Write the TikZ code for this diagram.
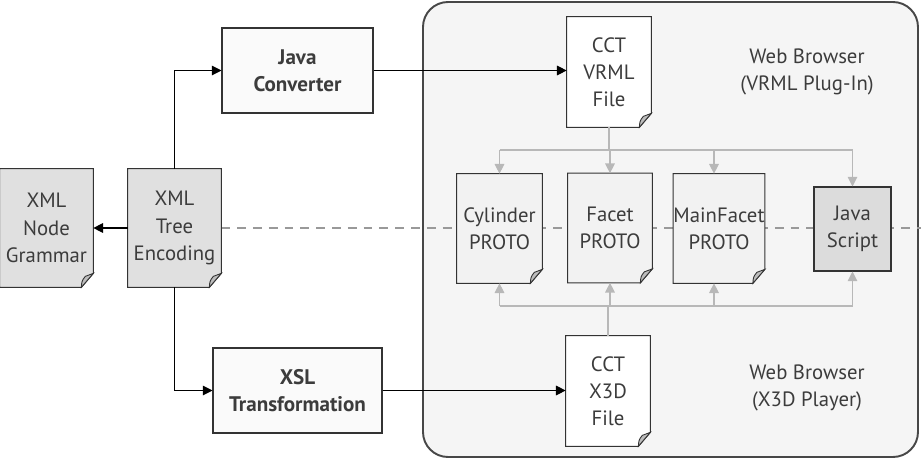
\documentclass[tikz,border=0pt]{standalone}
\usepackage{fontspec}
\setmainfont{PT Sans}
\usetikzlibrary{arrows.meta,calc}

\definecolor{ink}{HTML}{3C3C3C}
\definecolor{edge}{HTML}{333333}
\definecolor{feedgray}{HTML}{B8B8B8}
\definecolor{dashgray}{HTML}{999999}
\definecolor{panel}{HTML}{F5F5F5}
\definecolor{xmlfill}{HTML}{E0E0E0}
\definecolor{protofill}{HTML}{F2F2F2}
\definecolor{scriptfill}{HTML}{DCDCDC}
\definecolor{foldfill}{HTML}{BDBDBD}

\pgfdeclarelayer{bg}
\pgfdeclarelayer{paper}
\pgfsetlayers{bg,paper,main}

\tikzset{
  label text/.style={text=ink, align=center, inner sep=0pt, font=\fontsize{11.8}{15.5}\selectfont},
  toolbox/.style={label text, draw=edge, line width=0.6pt, fill=white!98!black, font=\fontsize{12}{15.5}\selectfont\bfseries},
  arr/.style={draw=black, line width=0.6pt, -{Triangle[length=5.5pt,width=5.5pt]}},
  feed/.style={draw=feedgray, line width=0.6pt},
  feedarr/.style={feed, -{Triangle[length=5.5pt,width=5.5pt]}},
}

% dog-eared page drawn behind a node
\newcommand{\docpaper}[2]{%
  \begin{pgfonlayer}{paper}
    \draw[edge, line width=0.6pt, fill=#2] (#1.north west) -- (#1.north east)
      -- ([yshift=0.28cm]#1.south east) -- ([xshift=-0.24cm]#1.south east)
      -- (#1.south west) -- cycle;
    \draw[edge, line width=0.5pt, fill=foldfill] ([xshift=-0.24cm]#1.south east)
      .. controls ([xshift=-0.23cm,yshift=0.13cm]#1.south east) .. ([xshift=-0.16cm,yshift=0.22cm]#1.south east)
      -- ([yshift=0.28cm]#1.south east) -- cycle;
  \end{pgfonlayer}}

\begin{document}
\begin{tikzpicture}[x=0.02cm,y=-0.02cm]
\useasboundingbox (0,0) rectangle (921,460);

\begin{pgfonlayer}{bg}
\draw[draw=edge!90, line width=1.1pt, fill=panel, rounded corners=0.5cm] (423,2) rectangle (918,457);
\end{pgfonlayer}

% left side
\node[label text, minimum width=1.86cm, minimum height=2.36cm] (grammar) at (46.5,228) {XML\\Node\\Grammar};
\node[label text, minimum width=1.86cm, minimum height=2.36cm] (tree) at (174.5,228) {XML\\Tree\\Encoding};
\node[toolbox, minimum width=3.02cm, minimum height=1.7cm] (conv) at (297.5,70.5) {Java\\Converter};
\node[toolbox, minimum width=3.38cm, minimum height=1.7cm] (xsl) at (297.5,390.5) {XSL\\Transformation};

% browser side
\node[label text, minimum width=1.68cm, minimum height=2.2cm] (vrml) at (609,72) {CCT\\VRML\\File};
\node[label text, minimum width=1.68cm, minimum height=2.2cm] (x3d) at (608,391) {CCT\\X3D\\File};
\node[label text, minimum width=1.7cm, minimum height=2.18cm] (cyl) at (499.5,228.5) {Cylinder\\PROTO};
\node[label text, minimum width=1.68cm, minimum height=2.18cm] (facet) at (610,228) {Facet\\PROTO};
\node[label text, minimum width=1.68cm, minimum height=2.18cm] (mfacet) at (719,228.5) {MainFacet\\PROTO};
\node[label text, draw=edge, line width=0.6pt, fill=scriptfill, minimum width=1.54cm, minimum height=1.68cm] (js) at (852.5,229) {Java\\Script};
\node[label text] (vrmlplug) at (807,72) {Web Browser\\(VRML Plug-In)};
\node[label text] (x3dplay) at (807,388) {Web Browser\\(X3D Player)};

\docpaper{grammar}{xmlfill}
\docpaper{tree}{xmlfill}
\docpaper{vrml}{white}
\docpaper{x3d}{white}
\docpaper{cyl}{protofill}
\docpaper{facet}{protofill}
\docpaper{mfacet}{protofill}

% dashed divider
\coordinate (dashend) at (921,228);
\begin{pgfonlayer}{bg}
\draw[dashgray, line width=0.8pt, dash pattern=on 5pt off 4pt] (tree.east) -- (dashend);
\end{pgfonlayer}

% black flow
\draw[arr] (tree.west) -- (grammar.east);
\draw[arr] (tree.north) |- (conv.west);
\draw[arr] (tree.south) |- (xsl.west);
\draw[arr] (conv.east) -- (conv.east -| vrml.west);
\draw[arr] (xsl.east) -- (xsl.east -| x3d.west);

% gray buses
\coordinate (bustop) at (0,150);
\coordinate (busbot) at (0,306);
\draw[feed] (vrml.south) -- (vrml.south |- bustop);
\draw[feed] (cyl.north |- bustop) -- (js.north |- bustop);
\draw[feed] (x3d.north) -- (x3d.north |- busbot);
\draw[feed] (cyl.south |- busbot) -- (js.south |- busbot);
\foreach \n in {cyl,facet,js} {
  \draw[feedarr] (\n.north |- bustop) -- (\n.north);
  \draw[feedarr] (\n.south |- busbot) -- (\n.south);
}
\draw[feedarr] ([xshift=-0.1cm]mfacet.north |- bustop) -- ([xshift=-0.1cm]mfacet.north);
\draw[feedarr] ([xshift=-0.1cm]mfacet.south |- busbot) -- ([xshift=-0.1cm]mfacet.south);
\end{tikzpicture}
\end{document}
